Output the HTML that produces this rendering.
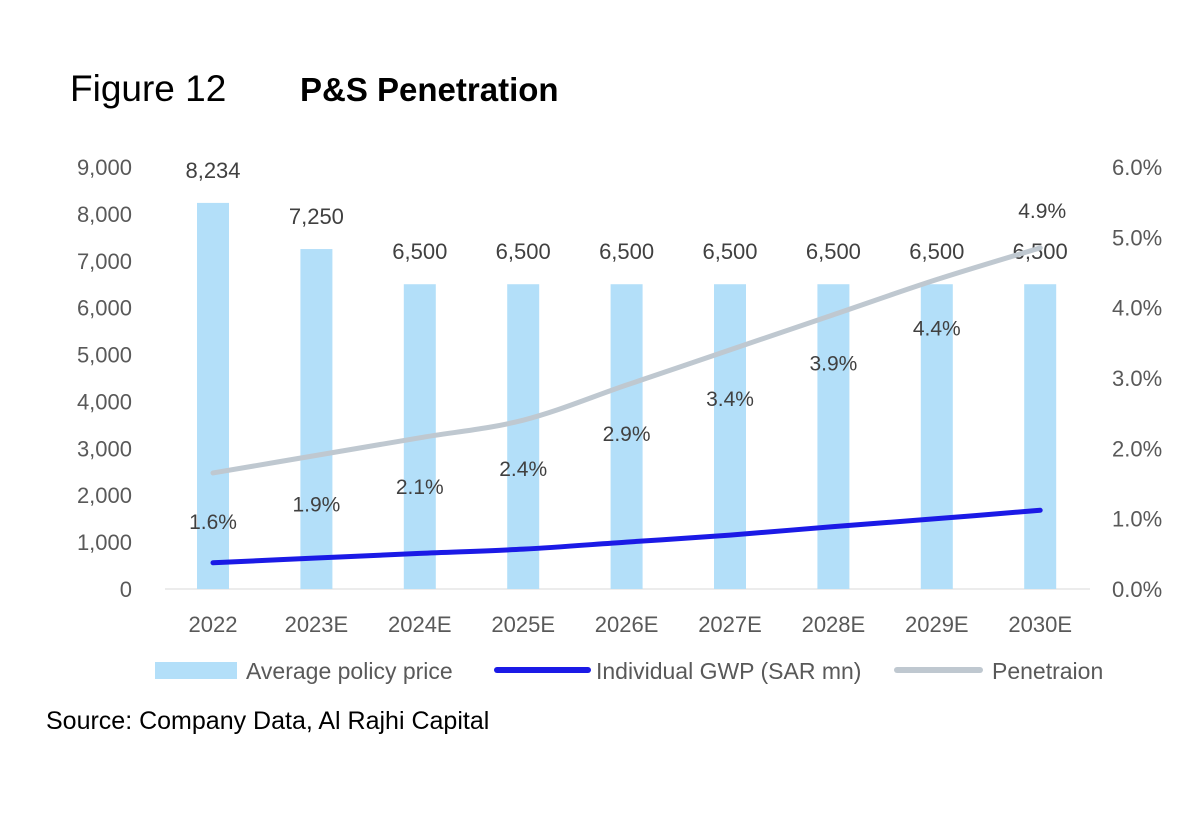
<!DOCTYPE html>
<html><head><meta charset="utf-8"><style>
body{margin:0;background:#fff;width:1200px;height:819px;overflow:hidden;font-family:"Liberation Sans",sans-serif}
</style></head><body>
<svg width="1200" height="819">
<text x="70" y="101" font-size="37" fill="#000">Figure 12</text>
<text x="300" y="101" font-size="33" font-weight="bold" fill="#000">P&amp;S Penetration</text>
<g id="plot"></g>
<g>
<rect x="155" y="662" width="82" height="17" fill="#b3dff9"/>
<text x="246" y="679" font-size="23" fill="#595959">Average policy price</text>
<line x1="497" y1="670" x2="588" y2="670" stroke="#1b1ae6" stroke-width="6" stroke-linecap="round"/>
<text x="596" y="679" font-size="23" fill="#595959">Individual GWP (SAR mn)</text>
<line x1="897" y1="670" x2="980" y2="670" stroke="#bfc8d0" stroke-width="6" stroke-linecap="round"/>
<text x="992" y="679" font-size="23" fill="#595959">Penetraion</text>
</g>
<text x="46" y="729" font-size="25" fill="#000">Source: Company Data, Al Rajhi Capital</text>
</svg>
<script>
const categories=["2022","2023E","2024E","2025E","2026E","2027E","2028E","2029E","2030E"];
const avgPrice=[8234,7250,6500,6500,6500,6500,6500,6500,6500];
const gwp=[560,660,760,850,1000,1150,1330,1500,1680];
const penetration=[1.65,1.9,2.15,2.4,2.9,3.4,3.9,4.4,4.85];
const penLabels=["1.6%","1.9%","2.1%","2.4%","2.9%","3.4%","3.9%","4.4%","4.9%"];
const leftTicks=[0,1000,2000,3000,4000,5000,6000,7000,8000,9000];
const rightTicks=[0,1,2,3,4,5,6];
const NS="http://www.w3.org/2000/svg";
const g=document.getElementById('plot');
const y0=589,yTop=167;
const yL=v=>y0-(v/9000)*(y0-yTop);
const yR=v=>y0-(v/6)*(y0-yTop);
const xC=i=>213+i*103.4;
function mk(t,a,txt){const e=document.createElementNS(NS,t);for(const k in a)e.setAttribute(k,a[k]);if(txt!==undefined)e.textContent=txt;g.appendChild(e);return e;}
let e=mk('line',{x1:165,y1:y0,x2:1090,y2:y0,stroke:'#d9d9d9','stroke-width':1});

leftTicks.forEach(v=>{const t=mk('text',{x:132,y:yL(v)+8,'font-size':22,fill:'#595959','text-anchor':'end'},v.toLocaleString('en-US'));
});
rightTicks.forEach(v=>{const t=mk('text',{x:1112,y:yR(v)+8,'font-size':22,fill:'#595959'},v.toFixed(1)+'%');
});
categories.forEach((c,i)=>{
const b=mk('rect',{x:xC(i)-16,y:yL(avgPrice[i]),width:32,height:y0-yL(avgPrice[i]),fill:'#b3dff9'});

const l=mk('text',{x:xC(i),y:yL(avgPrice[i])-25,'font-size':22,fill:'#404040','text-anchor':'middle'},avgPrice[i].toLocaleString('en-US'));

const x=mk('text',{x:xC(i),y:632,'font-size':22,fill:'#595959','text-anchor':'middle'},c);

});
function smooth(pts){let d='M'+pts[0][0]+','+pts[0][1];
for(let i=0;i<pts.length-1;i++){const p0=pts[i-1]||pts[i],p1=pts[i],p2=pts[i+1],p3=pts[i+2]||p2;
d+=' C'+(p1[0]+(p2[0]-p0[0])/6)+','+(p1[1]+(p2[1]-p0[1])/6)+' '+(p2[0]-(p3[0]-p1[0])/6)+','+(p2[1]-(p3[1]-p1[1])/6)+' '+p2[0]+','+p2[1];}
return d;}
e=mk('path',{d:smooth(penetration.map((v,i)=>[xC(i),yR(v)])),fill:'none',stroke:'#bfc8d0','stroke-width':5,'stroke-linecap':'round'});

e=mk('path',{d:smooth(gwp.map((v,i)=>[xC(i),yL(v)])),fill:'none',stroke:'#1b1ae6','stroke-width':5,'stroke-linecap':'round'});

penetration.forEach((v,i)=>{const last=i===penetration.length-1;
const t=mk('text',{x:xC(i)+(last?2:0),y:yR(v)+(last?-30:56),'font-size':21,fill:'#404040','text-anchor':'middle'},penLabels[i]);
});
</script>
</body></html>
